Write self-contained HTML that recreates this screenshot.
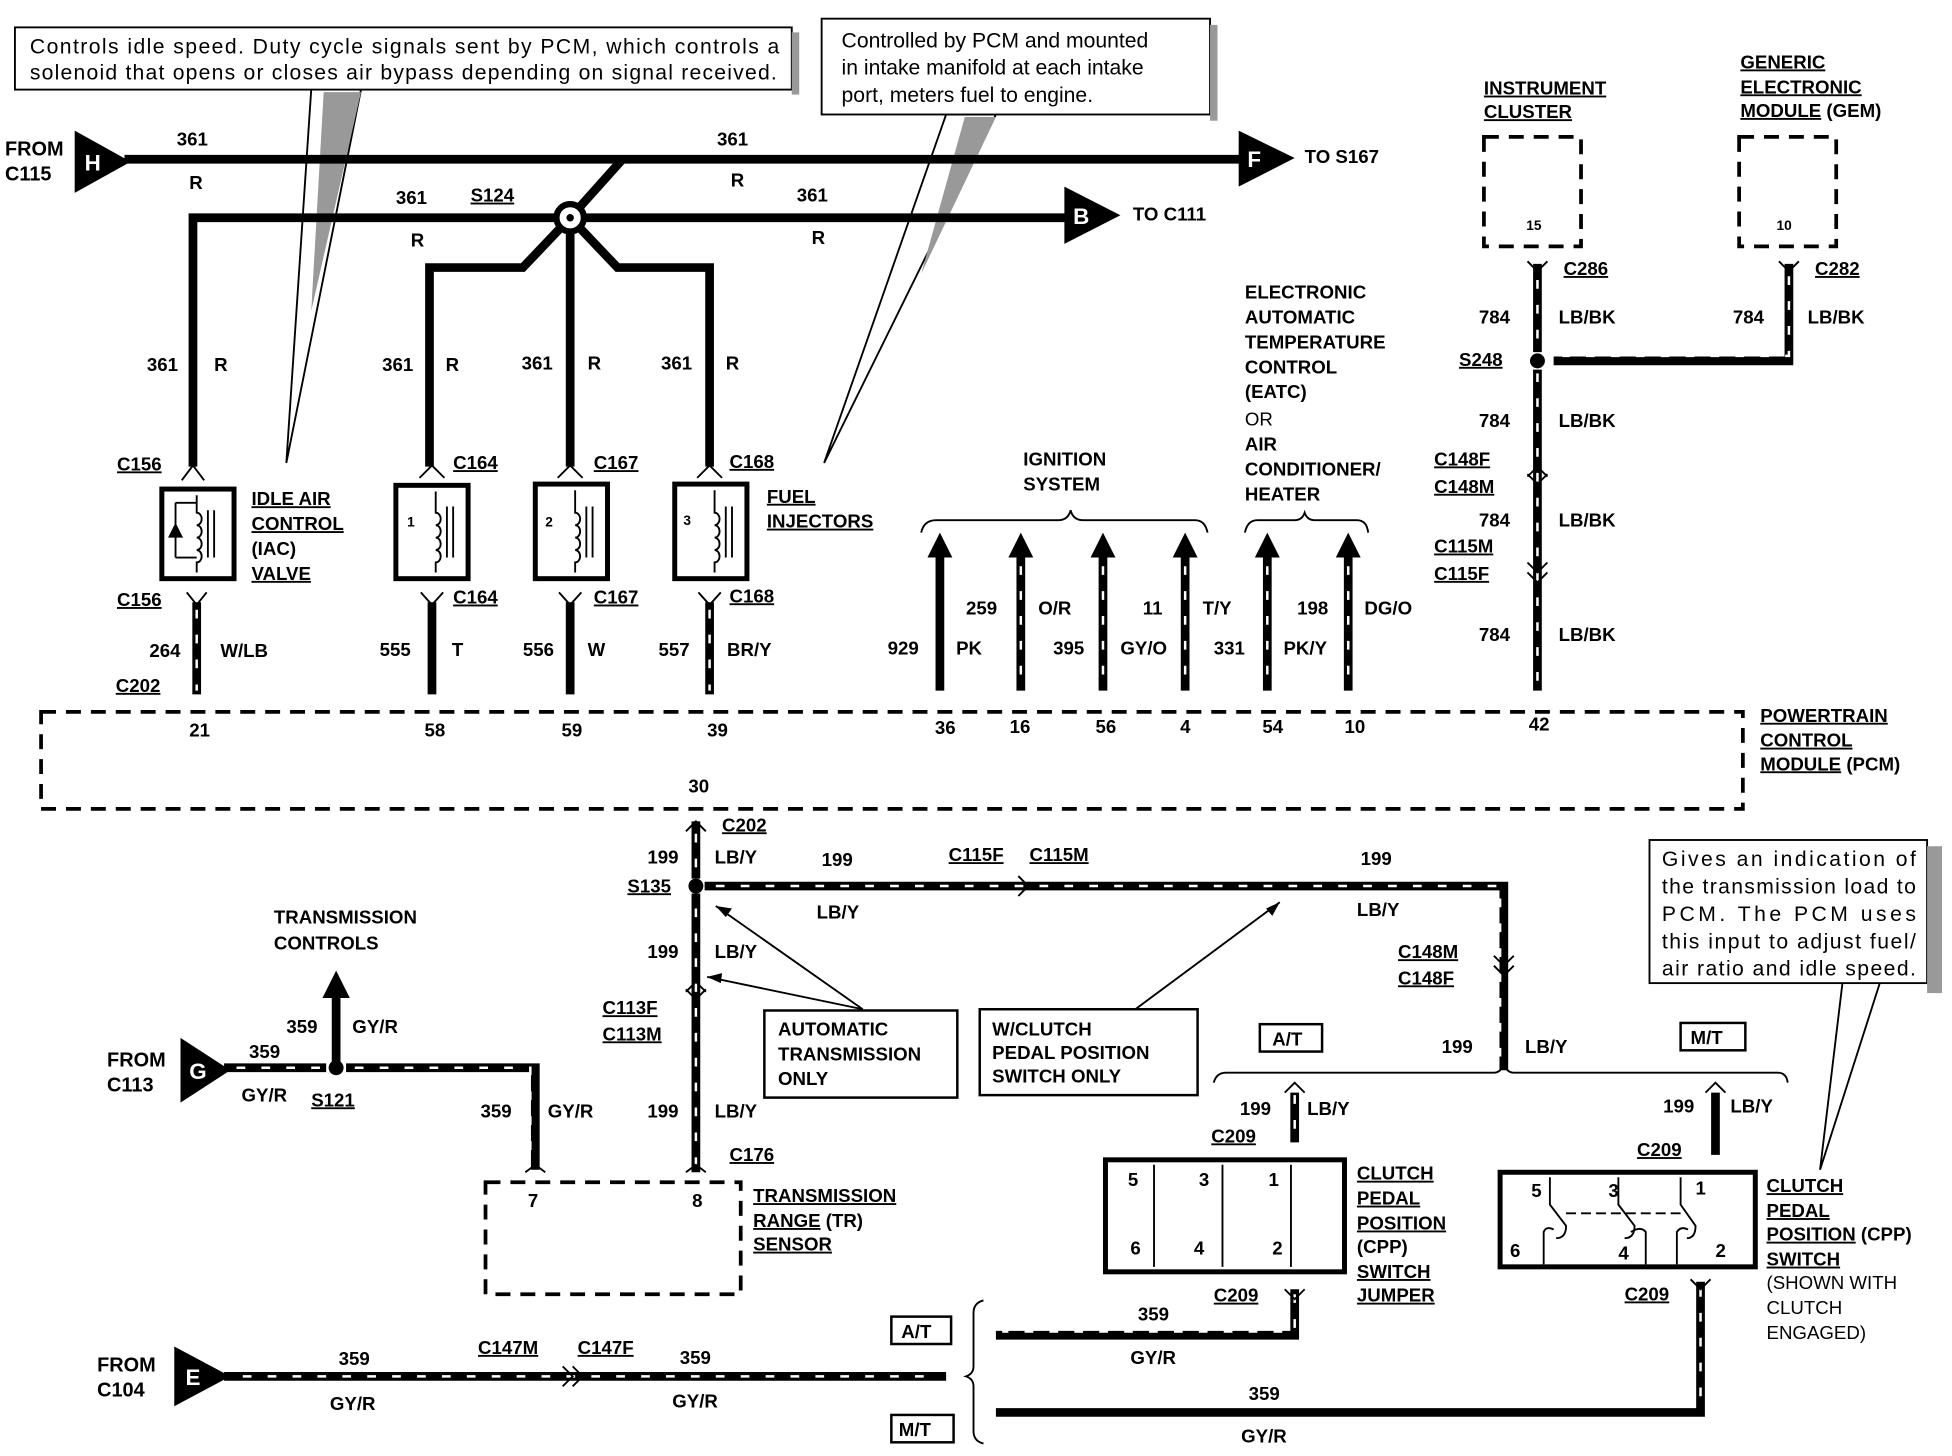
<!DOCTYPE html>
<html><head><meta charset="utf-8"><style>
html,body{margin:0;padding:0;background:#fff;}
svg{display:block;}
text{font-family:"Liberation Sans",sans-serif;font-weight:bold;font-size:15px;fill:#000;}
.n{font-weight:normal;font-size:17px;}
.s{font-size:11px;}
.u{text-decoration:underline;}
.w{stroke:#000;stroke-width:7;fill:none;stroke-linejoin:miter;}
.d{stroke:#fff;stroke-width:2;fill:none;stroke-dasharray:7 13;}
.t{stroke:#000;stroke-width:1.5;fill:none;}
.box{stroke:#000;stroke-width:4;fill:#fff;}
.db{stroke:#000;stroke-width:3;fill:none;stroke-dasharray:12 8;}
</style></head><body>
<svg width="1952" height="1456" viewBox="0 0 1568 1170" preserveAspectRatio="none" xmlns="http://www.w3.org/2000/svg">
<!-- callouts -->
<polygon points="250,72 290,72 230,372" fill="#fff" stroke="#000" stroke-width="1.5"/>
<polygon points="260,74 290,74 250,250" fill="#999"/>
<rect x="12" y="22" width="624" height="50" fill="#fff" stroke="#000" stroke-width="1.5"/>
<rect x="636" y="26" width="6" height="50" fill="#999"/>
<text class="n" x="24" y="43" textLength="602">Controls idle speed. Duty cycle signals sent by PCM, which controls a</text>
<text class="n" x="24" y="64" textLength="600">solenoid that opens or closes air bypass depending on signal received.</text>
<polygon points="760,92 800,92 662,372" fill="#fff" stroke="#000" stroke-width="1.5"/>
<polygon points="775,94 800,94 740,220" fill="#999"/>
<rect x="660" y="15" width="312" height="77" fill="#fff" stroke="#000" stroke-width="1.5"/>
<rect x="972" y="20" width="6" height="77" fill="#999"/>
<text class="n" x="676" y="38">Controlled by PCM and mounted</text>
<text class="n" x="676" y="60">in intake manifold at each intake</text>
<text class="n" x="676" y="82">port, meters fuel to engine.</text>
<polygon points="1480,790 1510,790 1462,940" fill="#fff" stroke="#000" stroke-width="1.5"/>
<rect x="1325" y="675" width="223" height="115" fill="#fff" stroke="#000" stroke-width="1.5"/>
<rect x="1548" y="680" width="12" height="118" fill="#999"/>
<text class="n" x="1335" y="696" textLength="204">Gives an indication of</text>
<text class="n" x="1335" y="718" textLength="204">the transmission load to</text>
<text class="n" x="1335" y="740" textLength="204">PCM. The PCM uses</text>
<text class="n" x="1335" y="762" textLength="204">this input to adjust fuel/</text>
<text class="n" x="1335" y="784" textLength="204">air ratio and idle speed.</text>

<!-- top wires -->
<polygon points="60,105 105,130 60,155" fill="#000"/><text x="68" y="137" style="fill:#fff;font-size:18px">H</text>
<text x="4" y="125" style="font-size:16px">FROM</text><text x="4" y="145" style="font-size:16px">C115</text>
<path class="w" d="M100,128 H1000"/>
<polygon points="995,105 1040,127 995,150" fill="#000"/><text x="1002" y="134" style="fill:#fff;font-size:18px">F</text>
<text x="1048" y="131">TO S167</text>
<polygon points="855,150 900,173 855,196" fill="#000"/><text x="862" y="180" style="fill:#fff;font-size:18px">B</text>
<text x="910" y="177">TO C111</text>
<path class="w" d="M500,128 L458,175 M458,175 H860 M458,175 H155 V375 M458,175 L420,215 H345 V375 M458,175 V375 M458,175 L496,215 H570 V375"/>
<circle cx="458" cy="175" r="11" fill="#fff" stroke="#000" stroke-width="5"/><circle cx="458" cy="175" r="3" fill="#000"/>
<text x="142" y="117">361</text><text x="152" y="152">R</text>
<text x="576" y="117">361</text><text x="587" y="150">R</text>
<text x="318" y="164">361</text><text class="u" x="378" y="162">S124</text><text x="330" y="198">R</text>
<text x="640" y="162">361</text><text x="652" y="196">R</text>
<text x="118" y="298">361</text><text x="172" y="298">R</text>
<text x="307" y="298">361</text><text x="358" y="298">R</text>
<text x="419" y="297">361</text><text x="472" y="297">R</text>
<text x="531" y="297">361</text><text x="583" y="297">R</text>

<!-- connectors above components -->
<g class="t" stroke-width="3">
<path d="M146,386 L155,374 L164,386 M337,384 L347,374 L357,384 M448,384 L458,374 L468,384 M560,384 L570,374 L580,384"/>
<path d="M150,476 L158,486 L166,476 M338,476 L347,486 L356,476 M449,476 L458,486 L467,476 M561,476 L570,486 L579,476"/>
</g>
<text class="u" x="94" y="378">C156</text><text class="u" x="364" y="377">C164</text><text class="u" x="477" y="377">C167</text><text class="u" x="586" y="376">C168</text>
<text class="u" x="94" y="487">C156</text><text class="u" x="364" y="485">C164</text><text class="u" x="477" y="485">C167</text><text class="u" x="586" y="484">C168</text>
<!-- components -->
<rect class="box" x="130" y="393" width="58" height="72"/>
<rect class="box" x="318" y="390" width="58" height="75"/>
<rect class="box" x="430" y="389" width="58" height="76"/>
<rect class="box" x="542" y="389" width="58" height="76"/>
<g class="t" stroke-width="2">
<path d="M158,398 V412 a4,5 0 0 1 0,10 a4,5 0 0 1 0,10 a4,5 0 0 1 0,10 a4,5 0 0 1 0,10 V460"/>
<path d="M350,395 V412 a4,5 0 0 1 0,10 a4,5 0 0 1 0,10 a4,5 0 0 1 0,10 a4,5 0 0 1 0,10 V460"/>
<path d="M462,394 V412 a4,5 0 0 1 0,10 a4,5 0 0 1 0,10 a4,5 0 0 1 0,10 a4,5 0 0 1 0,10 V460"/>
<path d="M574,394 V412 a4,5 0 0 1 0,10 a4,5 0 0 1 0,10 a4,5 0 0 1 0,10 a4,5 0 0 1 0,10 V460"/>
<path d="M167,410 V448 M172,410 V448 M359,407 V448 M364,407 V448 M471,407 V448 M476,407 V448 M583,407 V448 M588,407 V448"/>
<path d="M141,404 V448 M141,404 H158 M141,448 H158"/>
</g>
<polygon points="135,432 147,432 141,420" fill="#000"/>
<text class="s" x="327" y="423">1</text><text class="s" x="438" y="423">2</text><text class="s" x="549" y="422">3</text>
<text class="u" x="202" y="406">IDLE AIR</text><text class="u" x="202" y="426">CONTROL</text><text x="202" y="446">(IAC)</text><text class="u" x="202" y="466">VALVE</text>
<text class="u" x="616" y="404">FUEL</text><text class="u" x="616" y="424">INJECTORS</text>
<!-- lower wires -->
<path class="w" d="M158,484 V558 M347,484 V558 M458,484 V558 M570,484 V558"/>
<path class="d" d="M158,490 V555 M570,490 V555"/>
<text x="120" y="528">264</text><text x="177" y="528">W/LB</text>
<text x="305" y="527">555</text><text x="363" y="527">T</text>
<text x="420" y="527">556</text><text x="472" y="527">W</text>
<text x="529" y="527">557</text><text x="584" y="527">BR/Y</text>
<text class="u" x="93" y="556">C202</text>

<!-- ignition / eatc -->
<path class="t" stroke-width="2" d="M740,428 Q742,418 752,418 H850 Q858,418 860,410 Q862,418 870,418 H960 Q968,418 970,428"/>
<path class="t" stroke-width="2" d="M1000,428 Q1002,418 1010,418 H1040 Q1046,418 1048,412 Q1050,418 1056,418 H1090 Q1098,418 1099,428"/>
<text x="822" y="374">IGNITION</text><text x="822" y="394">SYSTEM</text>
<path class="w" d="M755,555 V445 M820,555 V445 M886,555 V445 M952,555 V445 M1018,555 V445 M1083,555 V445"/>
<path class="d" d="M820,455 V550 M886,455 V550 M952,455 V550 M1018,455 V550 M1083,455 V550"/>
<g fill="#000"><polygon points="745,448 755,428 765,448"/><polygon points="810,448 820,428 830,448"/><polygon points="876,448 886,428 896,448"/><polygon points="942,448 952,428 962,448"/><polygon points="1008,448 1018,428 1028,448"/><polygon points="1073,448 1083,428 1093,448"/></g>
<text x="713" y="526">929</text><text x="768" y="526">PK</text>
<text x="776" y="494">259</text><text x="834" y="494">O/R</text>
<text x="846" y="526">395</text><text x="900" y="526">GY/O</text>
<text x="918" y="494">11</text><text x="966" y="494">T/Y</text>
<text x="975" y="526">331</text><text x="1031" y="526">PK/Y</text>
<text x="1042" y="494">198</text><text x="1096" y="494">DG/O</text>
<text x="1000" y="240">ELECTRONIC</text><text x="1000" y="260">AUTOMATIC</text><text x="1000" y="280">TEMPERATURE</text><text x="1000" y="300">CONTROL</text><text x="1000" y="320">(EATC)</text>
<text x="1000" y="342" style="font-weight:normal">OR</text>
<text x="1000" y="362">AIR</text><text x="1000" y="382">CONDITIONER/</text><text x="1000" y="402">HEATER</text>

<!-- right top -->
<text class="u" x="1192" y="76">INSTRUMENT</text><text class="u" x="1192" y="95">CLUSTER</text>
<text class="u" x="1398" y="55">GENERIC</text><text class="u" x="1398" y="75">ELECTRONIC</text><text x="1398" y="94"><tspan class="u">MODULE</tspan> (GEM)</text>
<rect class="db" x="1192" y="110" width="78" height="88"/>
<rect class="db" x="1397" y="110" width="78" height="88"/>
<text class="s" x="1226" y="185">15</text><text class="s" x="1427" y="185">10</text>
<path class="w" d="M1235,212 V283 M1235,297 V555 M1437,212 V290 H1248"/>
<path class="d" d="M1235,225 V280 M1235,300 V550 M1437,222 V286 H1255"/>
<path class="t" stroke-width="3" d="M1227,210 L1235,218 L1243,210 M1429,210 L1437,218 L1445,210"/>
<circle cx="1235" cy="290" r="6" fill="#000"/>
<text class="u" x="1256" y="221">C286</text><text class="u" x="1458" y="221">C282</text>
<text x="1188" y="260">784</text><text x="1252" y="260">LB/BK</text>
<text x="1392" y="260">784</text><text x="1452" y="260">LB/BK</text>
<text class="u" x="1172" y="294">S248</text>
<text x="1188" y="343">784</text><text x="1252" y="343">LB/BK</text>
<text class="u" x="1152" y="374">C148F</text><text class="u" x="1152" y="396">C148M</text>
<path class="t" stroke-width="3" d="M1227,383 L1235,375 L1243,383 M1227,381 L1235,389 L1243,381"/>
<text x="1188" y="423">784</text><text x="1252" y="423">LB/BK</text>
<text class="u" x="1152" y="444">C115M</text><text class="u" x="1152" y="466">C115F</text>
<path class="t" stroke-width="3" d="M1227,452 L1235,460 L1243,452 M1227,460 L1235,468 L1243,460"/>
<text x="1188" y="515">784</text><text x="1252" y="515">LB/BK</text>

<!-- PCM -->
<rect class="db" x="33" y="572" width="1367" height="78"/>
<g class="s"><text x="152" y="592">21</text><text x="341" y="592">58</text><text x="451" y="592">59</text><text x="568" y="592">39</text><text x="751" y="590">36</text><text x="811" y="589">16</text><text x="880" y="589">56</text><text x="948" y="589">4</text><text x="1014" y="589">54</text><text x="1080" y="589">10</text><text x="1228" y="587">42</text><text x="553" y="637">30</text></g>
<text class="u" x="1414" y="580">POWERTRAIN</text><text class="u" x="1414" y="600">CONTROL</text><text x="1414" y="619"><tspan class="u">MODULE</tspan> (PCM)</text>

<!-- lower section -->
<path class="w" d="M559,660 V706 M559,718 V942 M566,712 H1208 V860"/>
<path class="d" d="M559,670 V940 M575,712 H1205 V855"/>
<circle cx="559" cy="712" r="6" fill="#000"/>
<path class="t" stroke-width="3" d="M551,668 L559,660 L567,668 M551,797 L559,789 L567,797 M551,795 L559,803 L567,795 M818,704 L826,712 L818,720 M1200,768 L1208,776 L1216,768 M1200,776 L1208,784 L1216,776 M551,942 L559,936 L567,942 M422,942 L430,936 L438,942"/>
<text class="u" x="580" y="668">C202</text>
<text x="520" y="694">199</text><text x="574" y="694">LB/Y</text><text x="660" y="696">199</text>
<text class="u" x="762" y="692">C115F</text><text class="u" x="827" y="692">C115M</text>
<text x="1093" y="695">199</text>
<text class="u" x="504" y="717">S135</text>
<text x="656" y="738">LB/Y</text><text x="1090" y="736">LB/Y</text>
<text x="520" y="770">199</text><text x="574" y="770">LB/Y</text>
<text class="u" x="484" y="815">C113F</text><text class="u" x="484" y="836">C113M</text>
<text x="520" y="898">199</text><text x="574" y="898">LB/Y</text>
<text class="u" x="586" y="933">C176</text>
<text class="u" x="1123" y="770">C148M</text><text class="u" x="1123" y="791">C148F</text>
<!-- callout boxes -->
<rect x="614" y="812" width="155" height="70" fill="#fff" stroke="#000" stroke-width="2"/>
<text x="625" y="832">AUTOMATIC</text><text x="625" y="852">TRANSMISSION</text><text x="625" y="872">ONLY</text>
<rect x="787" y="811" width="175" height="69" fill="#fff" stroke="#000" stroke-width="2"/>
<text x="797" y="832">W/CLUTCH</text><text x="797" y="851">PEDAL POSITION</text><text x="797" y="870">SWITCH ONLY</text>
<path class="t" d="M693,811 L575,728 M693,811 L568,785 M912,811 L1028,725"/>
<polygon points="575,728 588,730 583,737" fill="#000"/><polygon points="568,785 580,782 579,790" fill="#000"/><polygon points="1028,725 1022,736 1017,730" fill="#000"/>
<!-- bracket at 862 -->
<path class="t" stroke-width="2" d="M975,870 Q977,862 985,862 H1200 Q1206,862 1208,854 Q1210,862 1216,862 H1428 Q1435,862 1436,870"/>
<rect x="1012" y="823" width="50" height="22" fill="#fff" stroke="#000" stroke-width="2"/><text x="1022" y="840">A/T</text>
<rect x="1350" y="822" width="52" height="22" fill="#fff" stroke="#000" stroke-width="2"/><text x="1358" y="839">M/T</text>
<text x="1158" y="846">199</text><text x="1225" y="846">LB/Y</text>
<!-- clutch jumper -->
<path class="w" d="M1040,878 V918 M1378,878 V928 M1040,1036 V1073 H800 M1366,1030 V1135 H800"/>
<path class="d" d="M1040,880 V915 M1366,1035 V1130 H805 M1040,1040 V1070 H805"/>
<path class="t" stroke-width="3" d="M1032,878 L1040,870 L1048,878 M1370,878 L1378,870 L1386,878 M1032,1036 L1040,1044 L1048,1036 M1358,1028 L1366,1036 L1374,1028"/>
<text x="996" y="896">199</text><text x="1050" y="896">LB/Y</text>
<text x="1336" y="894">199</text><text x="1390" y="894">LB/Y</text>
<text class="u" x="973" y="918">C209</text><text class="u" x="1315" y="929">C209</text>
<rect x="888" y="932" width="192" height="90" fill="#fff" stroke="#000" stroke-width="4"/>
<path class="t" d="M927,936 V1018 M982,936 V1018 M1037,936 V1018"/>
<g class="s"><text x="906" y="953">5</text><text x="963" y="953">3</text><text x="1019" y="953">1</text><text x="908" y="1008">6</text><text x="959" y="1008">4</text><text x="1022" y="1008">2</text></g>
<text class="u" x="1090" y="948">CLUTCH</text><text class="u" x="1090" y="968">PEDAL</text><text class="u" x="1090" y="988">POSITION</text><text x="1090" y="1007">(CPP)</text><text class="u" x="1090" y="1027">SWITCH</text><text class="u" x="1090" y="1046">JUMPER</text>
<text class="u" x="975" y="1046">C209</text><text class="u" x="1305" y="1045">C209</text>
<rect x="1205" y="942" width="205" height="76" fill="#fff" stroke="#000" stroke-width="4"/>
<g class="t" stroke-width="2">
<path d="M1245,946 V968 L1258,985 Q1258,995 1250,995 M1240,1016 V990 Q1242,985 1248,988"/>
<path d="M1300,946 V968 L1313,985 Q1313,995 1305,995 M1322,1016 V990 Q1318,985 1310,990"/>
<path d="M1350,946 V968 L1362,985 Q1362,995 1355,995 M1347,1016 V990 Q1350,985 1356,988"/>
<path d="M1258,975 H1350" stroke-dasharray="8 4"/>
</g>
<g class="s"><text x="1230" y="962">5</text><text x="1292" y="962">3</text><text x="1362" y="960">1</text><text x="1213" y="1010">6</text><text x="1300" y="1012">4</text><text x="1378" y="1010">2</text></g>
<text class="u" x="1419" y="958">CLUTCH</text><text class="u" x="1419" y="978">PEDAL</text><text x="1419" y="997"><tspan class="u">POSITION</tspan> (CPP)</text><text class="u" x="1419" y="1017">SWITCH</text>
<text x="1419" y="1036" style="font-weight:normal">(SHOWN WITH</text><text x="1419" y="1056" style="font-weight:normal">CLUTCH</text><text x="1419" y="1076" style="font-weight:normal">ENGAGED)</text>
<text x="914" y="1061">359</text><text x="908" y="1096">GY/R</text>
<text x="1003" y="1125">359</text><text x="997" y="1159">GY/R</text>
<!-- bracket vertical -->
<path class="t" stroke-width="2" d="M790,1045 Q782,1047 782,1055 V1098 Q782,1104 776,1106 Q782,1108 782,1114 V1150 Q782,1158 790,1160"/>
<rect x="716" y="1058" width="48" height="22" fill="#fff" stroke="#000" stroke-width="2"/><text x="724" y="1075">A/T</text>
<rect x="716" y="1137" width="50" height="22" fill="#fff" stroke="#000" stroke-width="2"/><text x="722" y="1154">M/T</text>
<!-- E -->
<polygon points="140,1082 185,1106 140,1130" fill="#000"/><text x="149" y="1113" style="fill:#fff;font-size:18px">E</text>
<text x="78" y="1102" style="font-size:16px">FROM</text><text x="78" y="1122" style="font-size:16px">C104</text>
<path class="w" d="M180,1106 H760"/><path class="d" d="M195,1106 H755"/>
<path class="t" stroke-width="3" d="M452,1098 L460,1106 L452,1114 M460,1098 L468,1106 L460,1114"/>
<text x="272" y="1097">359</text><text x="265" y="1133">GY/R</text>
<text class="u" x="384" y="1088">C147M</text><text class="u" x="464" y="1088">C147F</text>
<text x="546" y="1096">359</text><text x="540" y="1131">GY/R</text>
<!-- G -->
<polygon points="145,834 185,860 145,886" fill="#000"/><text x="152" y="867" style="fill:#fff;font-size:18px">G</text>
<text x="86" y="857" style="font-size:16px">FROM</text><text x="86" y="877" style="font-size:16px">C113</text>
<path class="w" d="M180,858 H262 M278,858 H430 V940 M270,858 V800"/><path class="d" d="M190,858 H258 M285,858 H426 V935"/>
<polygon points="259,802 270,780 281,802" fill="#000"/>
<circle cx="270" cy="858" r="6" fill="#000"/>
<text x="220" y="742">TRANSMISSION</text><text x="220" y="763">CONTROLS</text>
<text x="230" y="830">359</text><text x="283" y="830">GY/R</text>
<text x="200" y="850">359</text><text x="194" y="885">GY/R</text><text class="u" x="250" y="889">S121</text>
<text x="386" y="898">359</text><text x="440" y="898">GY/R</text>
<rect class="db" x="390" y="950" width="205" height="90"/>
<g class="s"><text x="424" y="970">7</text><text x="556" y="970">8</text></g>
<text class="u" x="605" y="966">TRANSMISSION</text><text x="605" y="986"><tspan class="u">RANGE</tspan> (TR)</text><text class="u" x="605" y="1005">SENSOR</text>
</svg>
</body></html>
